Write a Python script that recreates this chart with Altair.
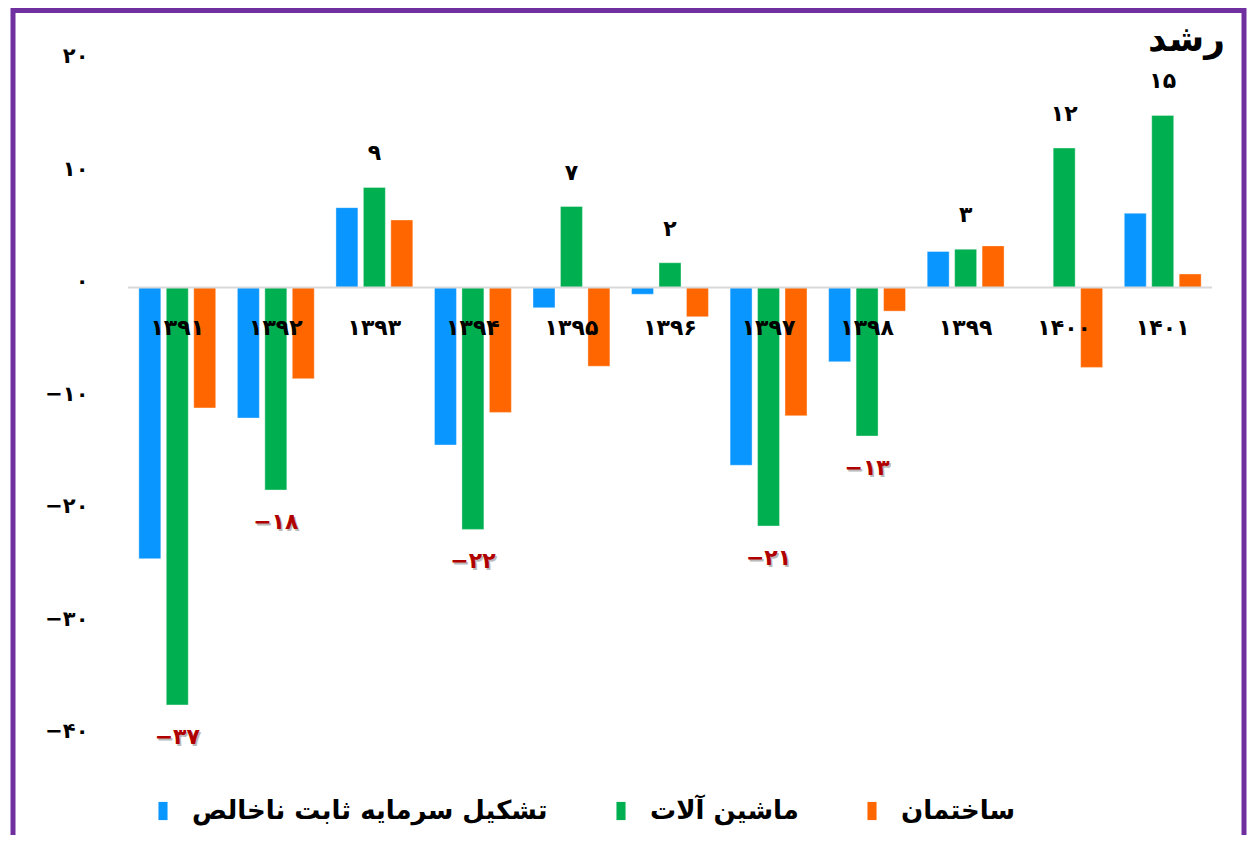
import altair as alt
import pandas as pd

years = ["1391", "1392", "1393", "1394", "1395", "1396", "1397", "1398", "1399", "1400", "1401"]
series = ["تشکیل سرمایه ثابت ناخالص", "ماشین آلات", "ساختمان"]
gfcf = [-24.1, -11.6, 7.1, -14.0, -1.8, -0.6, -15.8, -6.6, 3.2, 0.0, 6.6]
machinery = [-37.1, -18.0, 8.9, -21.5, 7.2, 2.2, -21.2, -13.2, 3.4, 12.4, 15.3]
construction = [-10.7, -8.1, 6.0, -11.1, -7.0, -2.6, -11.4, -2.1, 3.7, -7.1, 1.2]
machinery_labels = [-37, -18, 9, -22, 7, 2, -21, -13, 3, 12, 15]
y_ticks = [20, 10, 0, -10, -20, -30, -40]
colors = ["#0A96FF", "#00B050", "#FF6600"]
title_text = "رشد"

FONT = "DejaVu Sans"
FA = str.maketrans("0123456789", "۰۱۲۳۴۵۶۷۸۹")


def fa(v):
    s = str(abs(int(v))).translate(FA)
    return ("−" + s) if int(v) < 0 else s


rows = []
for vals, name in zip([gfcf, machinery, construction], series):
    for y, v in zip(years, vals):
        rows.append({"year": y, "series": name, "value": v})
df = pd.DataFrame(rows)

lab_df = pd.DataFrame({
    "year": years,
    "series": series[1],
    "value": machinery,
    "label": [fa(v) for v in machinery_labels],
    "neg": [v < 0 for v in machinery_labels],
})
year_df = pd.DataFrame({"year": years, "label": [fa(y) for y in years], "zero": 0})

W, H = 1084, 720

x_enc = alt.X("year:N", sort=years, axis=None,
              scale=alt.Scale(paddingInner=0.22, paddingOuter=0.11))
xo_enc = alt.XOffset("series:N", sort=series, scale=alt.Scale(domain=series, paddingInner=0.2))
y_scale = alt.Scale(domain=[-42, 22], nice=False)

label_expr = " : ".join(f"datum.value == {v} ? '{fa(v)}'" for v in y_ticks) + " : ''"

border = alt.Chart(pd.DataFrame({"a": [0]})).mark_rect(
    fill=None, stroke="#7030A0", strokeWidth=5, clip=False
).encode(x=alt.value(-115), x2=alt.value(1116), y=alt.value(-29.5), y2=alt.value(900))

bars = alt.Chart(df).mark_bar(stroke="#ffffff", strokeWidth=0.6, strokeOpacity=0.6).encode(
    x=x_enc,
    xOffset=xo_enc,
    y=alt.Y("value:Q", stack=None, scale=y_scale, title=None,
            axis=alt.Axis(values=y_ticks, labelExpr=label_expr, ticks=False, domain=False,
                          grid=False, labelFont=FONT, labelFontSize=21, labelFontWeight="bold",
                          labelColor="black", labelPadding=40, labelBaseline="alphabetic")),
    color=alt.Color("series:N", sort=series, scale=alt.Scale(domain=series, range=colors),
                    legend=alt.Legend(orient="none", legendX=22, legendY=758, direction="horizontal",
                                      title=None, symbolType="M-0.5,-1H0.5V1H-0.5Z", symbolSize=330,
                                      symbolStrokeWidth=0, labelFont=FONT, labelFontSize=26,
                                      labelFontWeight="bold", labelColor="black", labelOffset=16,
                                      columnPadding=60, labelLimit=600)),
)

zero_rule = alt.Chart(pd.DataFrame({"zero": [0]})).mark_rule(color="#D9D9D9", strokeWidth=2).encode(
    y=alt.Y("zero:Q", scale=y_scale), x=alt.value(0), x2=alt.value(W)
)

year_text = alt.Chart(year_df).mark_text(
    font=FONT, fontSize=22, fontWeight="bold", color="black", baseline="middle", dy=40
).encode(x=x_enc, y=alt.Y("zero:Q", scale=y_scale), text="label:N")

pos_labels = alt.Chart(lab_df).transform_filter("!datum.neg").mark_text(
    font=FONT, fontSize=22, fontWeight="bold", color="black", baseline="middle", dy=-34
).encode(x=x_enc, xOffset=xo_enc, y=alt.Y("value:Q", scale=y_scale), text="label:N")

neg_shadow = alt.Chart(lab_df).transform_filter("datum.neg").mark_text(
    font=FONT, fontSize=22, fontWeight="bold", color="#BBBBBB", baseline="middle", dy=34, dx=1.5
).encode(x=x_enc, xOffset=xo_enc, y=alt.Y("value:Q", scale=y_scale), text="label:N")

neg_labels = alt.Chart(lab_df).transform_filter("datum.neg").mark_text(
    font=FONT, fontSize=22, fontWeight="bold", color="#B00000", baseline="middle", dy=32
).encode(x=x_enc, xOffset=xo_enc, y=alt.Y("value:Q", scale=y_scale), text="label:N")

title_mark = alt.Chart(pd.DataFrame({"t": [title_text]})).mark_text(
    font=FONT, fontSize=36, fontWeight="bold", color="black", align="right", baseline="middle"
).encode(x=alt.value(1097), y=alt.value(0), text="t:N")

chart = alt.layer(border, bars, zero_rule, year_text, pos_labels, neg_shadow, neg_labels,
                  title_mark).properties(
    width=W, height=H,
    autosize=alt.AutoSizeParams(type="none"),
    padding={"left": 120, "top": 32, "right": 35, "bottom": 75},
).configure_view(stroke=None)

chart.save("out.html", embed_options={"renderer": "svg", "actions": False})
